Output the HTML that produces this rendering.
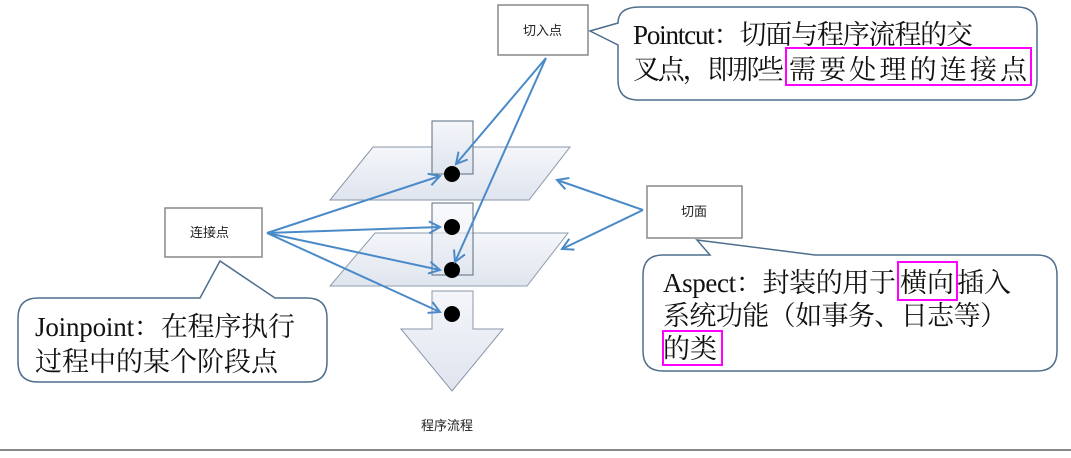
<!DOCTYPE html>
<html><head><meta charset="utf-8"><style>
body{margin:0;background:#fff;}
svg text{font-family:"Liberation Serif","Noto Serif CJK SC","Noto Sans CJK SC",serif;}
.s{font-family:"Liberation Sans","Noto Sans CJK SC",sans-serif;font-size:13px;fill:#222;}
</style></head><body>
<svg width="1071" height="453" viewBox="0 0 1071 453" xmlns="http://www.w3.org/2000/svg">
<defs>
<linearGradient id="g" x1="0" y1="0" x2="0" y2="1"><stop offset="0" stop-color="#f4f6fa"/><stop offset="1" stop-color="#dfe4ee"/></linearGradient>
<marker id="a" markerWidth="14" markerHeight="14" refX="12" refY="7" orient="auto" markerUnits="userSpaceOnUse"><path d="M1,1 L12,7 L1,13" fill="none" stroke="#4a8ac8" stroke-width="2"/></marker>
</defs>
<rect width="1071" height="453" fill="#fff"/>
<line x1="0" y1="450" x2="1071" y2="450" stroke="#888" stroke-width="2"/>
<path d="M432,291 L473,291 L473,329 L503,329 L452,391 L401,329 L432,329 Z" fill="url(#g)" stroke="#8a97aa" stroke-width="1"/>
<path d="M373,147 L570,147 L529,200 L330,200 Z" fill="url(#g)" stroke="#8a97aa"/>
<rect x="432" y="121" width="41" height="53" fill="url(#g)" stroke="#5a6b80"/>
<path d="M375,233 L568,233 L527,286 L330,286 Z" fill="url(#g)" stroke="#8a97aa" opacity="0.95"/>
<rect x="432" y="203" width="41" height="72" fill="url(#g)" stroke="#5a6b80" fill-opacity="0.6"/>
<circle cx="452" cy="174" r="8" fill="#000"/>
<circle cx="452" cy="227" r="8" fill="#000"/>
<circle cx="452" cy="270" r="8" fill="#000"/>
<circle cx="452" cy="314" r="8" fill="#000"/>
<text x="421" y="430" class="s">程序流程</text>
<rect x="498" y="5" width="90" height="50" fill="#fff" stroke="#888" stroke-width="1.5"/>
<text x="523" y="35" class="s">切入点</text>
<rect x="165" y="208" width="97" height="49" fill="#fff" stroke="#888" stroke-width="1.5"/>
<text x="190" y="237" class="s">连接点</text>
<rect x="647" y="186" width="95" height="52" fill="#fff" stroke="#888" stroke-width="1.5"/>
<text x="681" y="216" class="s">切面</text>
<g stroke="#4a8ac8" stroke-width="2" fill="none" marker-end="url(#a)">
<line x1="546" y1="58" x2="456" y2="164"/>
<line x1="546" y1="58" x2="455" y2="262"/>
<line x1="267" y1="233" x2="440" y2="176"/>
<line x1="267" y1="233" x2="440" y2="227"/>
<line x1="267" y1="233" x2="440" y2="270"/>
<line x1="267" y1="233" x2="440" y2="312"/>
<line x1="643" y1="210" x2="557" y2="180"/>
<line x1="643" y1="210" x2="562" y2="249"/>
</g>
<path d="M640,7 L1017,7 Q1037,7 1037,27 L1037,80 Q1037,100 1017,100 L638,100 Q618,100 618,80 L618,45 L590,31 L618,23 Q618,7 640,7 Z" fill="#fff" stroke="#4f6e8c" stroke-width="1.5"/>
<text x="633" y="44" font-size="27" fill="#111" textLength="340" lengthAdjust="spacing">Pointcut：切面与程序流程的交</text>
<text x="633" y="79" font-size="27" fill="#111" textLength="151" lengthAdjust="spacing">叉点，即那些</text>
<text x="789" y="79" font-size="27" fill="#111" textLength="238" lengthAdjust="spacing">需要处理的连接点</text>
<rect x="786" y="48" width="245" height="37" fill="none" stroke="#f0f" stroke-width="2"/>

<path d="M38,298 L200,298 L220,261 L275,298 L307,298 Q327,298 327,318 L327,362 Q327,382 307,382 L38,382 Q18,382 18,362 L18,318 Q18,298 38,298 Z" fill="#fff" stroke="#4f6e8c" stroke-width="1.5"/>
<text x="35" y="336" font-size="27" fill="#111" textLength="260" lengthAdjust="spacing">Joinpoint：在程序执行</text>
<text x="35" y="371" font-size="27" fill="#111" textLength="243" lengthAdjust="spacing">过程中的某个阶段点</text>

<path d="M663,255 L710,255 L697,240 L815,255 L1037,255 Q1057,255 1057,275 L1057,351 Q1057,371 1037,371 L663,371 Q643,371 643,351 L643,275 Q643,255 663,255 Z" fill="#fff" stroke="#4f6e8c" stroke-width="1.5"/>
<text x="663" y="292" font-size="27" fill="#111" textLength="233" lengthAdjust="spacing">Aspect：封装的用于</text>
<text x="900" y="292" font-size="27" fill="#111" textLength="54" lengthAdjust="spacing">横向</text>
<text x="957" y="292" font-size="27" fill="#111" textLength="54" lengthAdjust="spacing">插入</text>
<text x="663" y="325" font-size="27" fill="#111" textLength="344" lengthAdjust="spacing">系统功能（如事务、日志等）</text>
<text x="663" y="358" font-size="27" fill="#111" textLength="54" lengthAdjust="spacing">的类</text>
<rect x="898" y="262" width="59" height="38" fill="none" stroke="#f0f" stroke-width="2"/>
<rect x="663" y="331" width="59" height="34" fill="none" stroke="#f0f" stroke-width="2"/>
</svg>
</body></html>
